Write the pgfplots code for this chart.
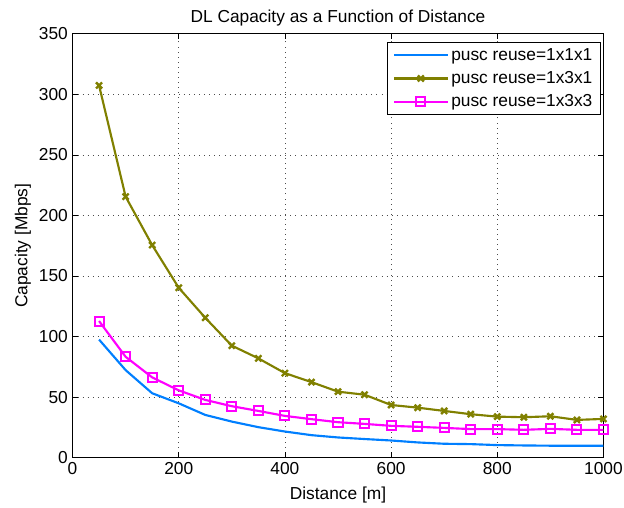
\documentclass[border=0pt]{standalone}
\usepackage{fontspec}
\setmainfont{Liberation Sans}
\usepackage{pgfplots}
\pgfplotsset{compat=1.18}
\definecolor{mblue}{RGB}{0,127,255}
\definecolor{molive}{RGB}{128,128,0}
\definecolor{mmag}{RGB}{255,0,255}
\begin{document}
\begin{tikzpicture}
\begin{axis}[
  scale only axis,
  width=398.25pt, height=318pt,
  xmin=0, xmax=1000, ymin=0, ymax=350,
  xtick={0,200,...,1000}, ytick={0,50,...,350},
  font=\fontsize{13}{15.5}\selectfont,
  /pgf/number format/assume math mode=true,
  /pgf/number format/set thousands separator={},
  tick align=inside,
  major tick length=4pt,
  tick style={black, line width=0.5pt},
  axis line style={black, line width=0.6pt},
  grid=major,
  major grid style={black!70, line width=0.5pt, dash pattern=on 0.6pt off 3.2pt},
  title={DL Capacity as a Function of Distance},
  title style={yshift=-4pt},
  xlabel={Distance [m]},
  ylabel={Capacity [Mbps]},
  xlabel style={yshift=-2.5pt},
  ylabel style={yshift=-1pt},
  legend style={at={(1,1)}, anchor=north east, xshift=-2pt, yshift=-6.5pt,
    draw=black, line width=0.6pt, font=\fontsize{13}{15.5}\selectfont,
    row sep=3pt, inner xsep=4pt, inner ysep=2pt},
  legend cell align=left,
  legend image code/.code={\draw[mark repeat=2,mark phase=2,#1] plot coordinates {(0pt,0pt) (20pt,0pt) (40pt,0pt)};},
]
\addplot[mblue, line width=1.6pt] coordinates {
(50,97.5) (100,72.3) (150,53.2) (200,44.9) (250,35.3) (300,29.8) (350,25.2) (400,21.6)
(450,18.6) (500,16.7) (550,15.4) (600,14.2) (650,12.6) (700,11.5) (750,11.2) (800,10.4)
(850,10.1) (900,9.9) (950,9.9) (1000,9.9)};
\addlegendentry{pusc reuse=1x1x1}
\addplot[molive, line width=1.6pt, mark=x, mark size=3.2pt, mark options={line width=1.8pt}] coordinates {
(50,307.3) (100,215.5) (150,175.5) (200,140.3) (250,115.5) (300,92.5) (350,82) (400,69.8)
(450,62.4) (500,54.5) (550,52) (600,43.5) (650,41.3) (700,38.6) (750,35.9) (800,33.9)
(850,33.4) (900,34.2) (950,31.2) (1000,32)};
\addlegendentry{pusc reuse=1x3x1}
\addplot[mmag, line width=1.6pt, mark=square, mark size=3.4pt, mark options={line width=1.5pt}] coordinates {
(50,112.8) (100,83.3) (150,66.3) (200,55.6) (250,47.7) (300,42.5) (350,38.6) (400,34.5)
(450,31.8) (500,29.3) (550,27.9) (600,26.3) (650,25.5) (700,24.6) (750,23.6) (800,23.6)
(850,23) (900,23.8) (950,23) (1000,23)};
\addlegendentry{pusc reuse=1x3x3}
\end{axis}
\pgfresetboundingbox
\path ([shift={(-54.4pt,-37.5pt)}]current axis.south west) rectangle ([shift={(15.4pt,25.3pt)}]current axis.north east);
\end{tikzpicture}
\end{document}
